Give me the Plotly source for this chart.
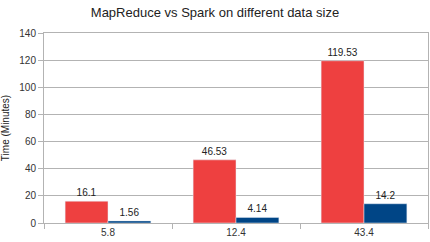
import plotly.graph_objects as go

categories = ["5.8", "12.4", "43.4"]
mapreduce = [16.1, 46.53, 119.53]
spark = [1.56, 4.14, 14.2]
mr_labels = ["16.1", "46.53", "119.53"]
sp_labels = ["1.56", "4.14", "14.2"]

fig = go.Figure()
fig.add_trace(go.Bar(x=categories, y=mapreduce, name="MapReduce", marker_color="#EE4040",
                     text=mr_labels, textposition="outside", textfont=dict(size=10, color="#222"),
                     cliponaxis=False))
fig.add_trace(go.Bar(x=categories, y=spark, name="Spark", marker_color="#004586",
                     text=sp_labels, textposition="outside", textfont=dict(size=10, color="#222"),
                     cliponaxis=False))

fig.update_layout(
    width=430, height=242,
    margin=dict(l=44, r=2, t=33, b=19, autoexpand=False),
    paper_bgcolor="white", plot_bgcolor="white",
    barmode="group", bargap=0.33, bargroupgap=0,
    showlegend=False,
    font=dict(family="Liberation Sans, Arial, sans-serif", size=10, color="#222"),
    title=dict(text="MapReduce vs Spark on different data size", x=0.5, xanchor="center",
               y=0.95, yanchor="middle", font=dict(size=13, color="#222")),
)
fig.update_xaxes(type="category", tickson="boundaries", ticks="outside", ticklen=5,
                 tickcolor="#b3b3b3", showgrid=False, showline=True, linecolor="#b3b3b3",
                 mirror=True, tickfont=dict(size=10, color="#333"), automargin=False)
fig.update_yaxes(range=[0, 140], dtick=20, ticks="outside", ticklen=5, tickcolor="#b3b3b3",
                 showgrid=True, gridcolor="#b3b3b3", gridwidth=1, showline=True,
                 linecolor="#b3b3b3", mirror=True, zeroline=False,
                 tickfont=dict(size=10, color="#333"), automargin=False,
                 title=dict(text="Time (Minutes)", font=dict(size=10, color="#222"), standoff=8))

fig.write_html("out.html", config={"displayModeBar": False},
               post_script="document.body.style.margin='0';")
